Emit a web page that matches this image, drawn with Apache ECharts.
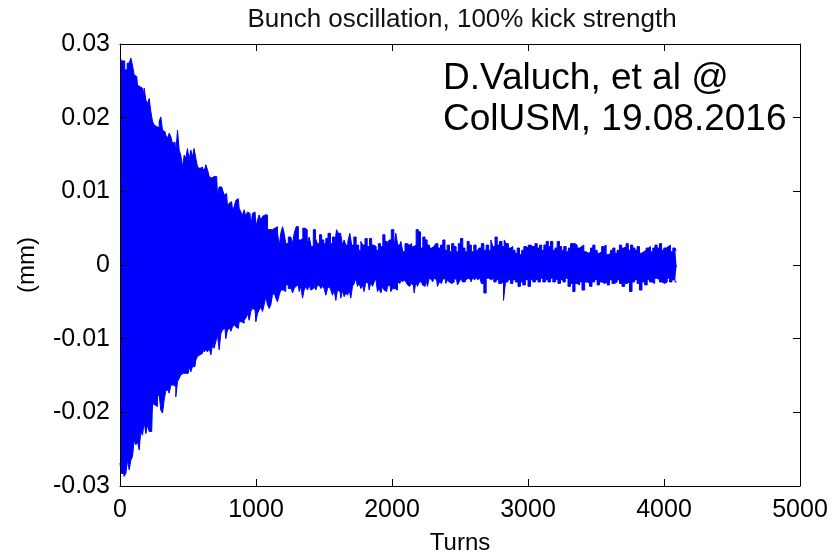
<!DOCTYPE html>
<html>
<head>
<meta charset="utf-8">
<script src="https://cdn.jsdelivr.net/npm/echarts@6/dist/echarts.min.js"></script>
<style>
html,body{margin:0;padding:0;background:#fff;}
#chart{width:839px;height:556px;}
</style>
</head>
<body>
<div id="chart"></div>
<script>
// Chart texts
const titleText = 'Bunch oscillation, 100% kick strength';
const xName = 'Turns';
const yName = '(mm)';
const noteText = 'D.Valuch, et al @\nColUSM, 19.08.2016';

// Axis ranges / ticks
const xTicks = { min: 0, max: 5000, interval: 1000 };
const yTicks = { min: -0.03, max: 0.03, interval: 0.01 };

// Upper envelope of the bunch oscillation [turn, mm]
const upperEnvelope = [
[0,0.0281],[25,0.0277],[44,0.0265],[61,0.0274],[74,0.0276],[86,0.0281],[98,0.0271],[110,0.0258],[123,0.0256],[135,0.0244],
[147,0.0242],[159,0.0240],[172,0.0226],[184,0.0240],[196,0.0224],[208,0.0219],[221,0.0226],[233,0.0208],[245,0.0195],[257,0.0190],
[270,0.0188],[282,0.0186],[294,0.0195],[306,0.0201],[319,0.0183],[331,0.0181],[343,0.0176],[355,0.0172],[368,0.0179],[380,0.0174],
[392,0.0165],[404,0.0167],[417,0.0154],[429,0.0183],[441,0.0156],[453,0.0149],[466,0.0133],[478,0.0149],[490,0.0145],[502,0.0158],
[515,0.0143],[527,0.0156],[539,0.0147],[551,0.0158],[564,0.0145],[576,0.0133],[588,0.0131],[600,0.0133],[613,0.0129],[625,0.0131],
[637,0.0136],[650,0.0129],[662,0.0120],[674,0.0118],[686,0.0120],[698,0.0120],[711,0.0120],[723,0.0093],[735,0.0106],[748,0.0106],
[760,0.0102],[772,0.0095],[784,0.0097],[797,0.0079],[809,0.0084],[821,0.0086],[833,0.0075],[846,0.0079],[858,0.0088],[870,0.0090],
[882,0.0077],[895,0.0072],[907,0.0068],[919,0.0075],[931,0.0066],[944,0.0072],[956,0.0070],[968,0.0052],[980,0.0070],[993,0.0072],
[1005,0.0052],[1017,0.0061],[1029,0.0068],[1042,0.0061],[1054,0.0066],[1066,0.0068],[1078,0.0068],[1091,0.0048],[1103,0.0048],[1115,0.0048],
[1127,0.0050],[1140,0.0050],[1152,0.0052],[1164,0.0045],[1176,0.0025],[1189,0.0043],[1201,0.0052],[1213,0.0043],[1225,0.0029],[1250,0.0038],
[1262,0.0038],[1275,0.0029],[1287,0.0043],[1304,0.0052],[1319,0.0034],[1336,0.0036],[1353,0.0050],[1368,0.0048],[1385,0.0029],[1397,0.0038],
[1414,0.0025],[1429,0.0048],[1446,0.0036],[1458,0.0029],[1476,0.0041],[1490,0.0034],[1507,0.0029],[1520,0.0036],[1539,0.0043],[1556,0.0029],
[1569,0.0038],[1586,0.0025],[1598,0.0048],[1613,0.0043],[1630,0.0041],[1642,0.0027],[1654,0.0034],[1667,0.0027],[1684,0.0032],[1696,0.0043],
[1711,0.0027],[1728,0.0038],[1745,0.0027],[1765,0.0020],[1777,0.0032],[1794,0.0027],[1809,0.0036],[1826,0.0025],[1843,0.0036],[1858,0.0027],
[1875,0.0025],[1892,0.0020],[1907,0.0029],[1924,0.0025],[1941,0.0041],[1956,0.0032],[1973,0.0027],[1985,0.0034],[2005,0.0048],[2022,0.0023],
[2034,0.0043],[2047,0.0029],[2059,0.0025],[2071,0.0032],[2088,0.0018],[2103,0.0029],[2120,0.0027],[2137,0.0029],[2152,0.0025],[2169,0.0027],
[2186,0.0048],[2201,0.0045],[2218,0.0023],[2235,0.0038],[2250,0.0034],[2267,0.0027],[2284,0.0023],[2299,0.0025],[2316,0.0023],[2328,0.0029],
[2348,0.0023],[2365,0.0027],[2382,0.0034],[2397,0.0020],[2414,0.0027],[2431,0.0018],[2446,0.0029],[2463,0.0025],[2480,0.0018],[2495,0.0029],
[2512,0.0036],[2529,0.0023],[2544,0.0018],[2561,0.0032],
[2574,0.0027],[2593,0.0018],[2610,0.0027],[2627,0.0020],[2647,0.0023],[2667,0.0029],[2684,0.0020],[2701,0.0027],[2721,0.0020],[2733,0.0034],
[2750,0.0025],[2765,0.0038],[2782,0.0027],[2799,0.0032],[2819,0.0025],[2831,0.0034],[2848,0.0029],[2863,0.0023],[2880,0.0025],[2897,0.0020],
[2912,0.0016],[2929,0.0023],[2946,0.0014],[2961,0.0020],[2978,0.0025],[2995,0.0023],[3010,0.0027],[3027,0.0025],[3044,0.0025],[3059,0.0029],
[3076,0.0023],[3093,0.0027],[3108,0.0020],[3125,0.0027],[3142,0.0032],[3157,0.0025],[3174,0.0032],[3191,0.0020],[3206,0.0023],[3223,0.0032],
[3240,0.0025],[3255,0.0020],[3272,0.0025],[3289,0.0018],[3304,0.0023],[3321,0.0029],[3338,0.0029],[3353,0.0027],[3370,0.0023],[3387,0.0025],
[3402,0.0027],[3419,0.0018],[3436,0.0016],[3451,0.0018],[3468,0.0023],[3485,0.0027],[3500,0.0020],[3517,0.0016],[3534,0.0018],[3549,0.0025],
[3566,0.0027],[3583,0.0014],[3598,0.0016],[3615,0.0020],[3632,0.0023],[3647,0.0016],[3664,0.0020],[3681,0.0027],[3696,0.0023],[3713,0.0025],
[3730,0.0029],[3745,0.0020],[3762,0.0027],[3779,0.0023],[3794,0.0020],[3811,0.0025],[3828,0.0016],[3843,0.0018],[3860,0.0020],[3877,0.0023],
[3892,0.0025],[3909,0.0018],[3926,0.0023],[3941,0.0027],[3958,0.0023],[3975,0.0029],[3990,0.0020],[4007,0.0023],[4024,0.0025],[4039,0.0027],
[4056,0.0018],[4074,0.0023],[4093,0.0020]
];

// Lower envelope of the bunch oscillation [turn, mm]
const lowerEnvelope = [
[0,-0.0269],[20,-0.0283],[37,-0.0287],[49,-0.0283],[61,-0.0265],[74,-0.0278],[86,-0.0265],[98,-0.0260],[110,-0.0238],[123,-0.0244],
[135,-0.0240],[147,-0.0251],[159,-0.0226],[172,-0.0231],[184,-0.0213],[196,-0.0229],[208,-0.0217],[221,-0.0226],[233,-0.0226],[245,-0.0188],
[257,-0.0190],[270,-0.0192],[282,-0.0179],[294,-0.0176],[306,-0.0197],[319,-0.0201],[331,-0.0183],[343,-0.0170],[355,-0.0170],[368,-0.0174],
[380,-0.0163],[392,-0.0163],[404,-0.0165],[417,-0.0179],[429,-0.0158],[441,-0.0154],[453,-0.0149],[466,-0.0147],[478,-0.0147],[490,-0.0149],
[502,-0.0147],[515,-0.0138],[527,-0.0145],[539,-0.0138],[551,-0.0138],[564,-0.0129],[576,-0.0124],[588,-0.0122],[600,-0.0120],[613,-0.0115],
[625,-0.0118],[637,-0.0115],[650,-0.0118],[662,-0.0113],[674,-0.0122],[686,-0.0109],[698,-0.0113],[711,-0.0104],[723,-0.0095],[735,-0.0115],
[748,-0.0093],[760,-0.0088],[772,-0.0086],[784,-0.0100],[797,-0.0088],[809,-0.0086],[821,-0.0090],[833,-0.0084],[846,-0.0081],[858,-0.0084],
[870,-0.0086],[882,-0.0077],[895,-0.0077],[907,-0.0079],[919,-0.0075],[931,-0.0072],[944,-0.0066],[956,-0.0075],[968,-0.0063],[980,-0.0059],
[993,-0.0061],[1005,-0.0077],[1017,-0.0066],[1029,-0.0061],[1042,-0.0057],[1054,-0.0063],[1066,-0.0054],[1078,-0.0043],[1091,-0.0054],[1103,-0.0059],
[1115,-0.0054],[1127,-0.0041],[1140,-0.0038],[1152,-0.0045],[1164,-0.0050],[1176,-0.0041],[1189,-0.0034],[1201,-0.0034],[1213,-0.0036],[1225,-0.0027],
[1250,-0.0032],
[1262,-0.0029],[1275,-0.0038],[1287,-0.0032],[1299,-0.0029],[1311,-0.0027],[1324,-0.0036],[1336,-0.0029],[1348,-0.0045],[1360,-0.0034],[1373,-0.0029],
[1385,-0.0034],[1397,-0.0027],[1409,-0.0034],[1422,-0.0032],[1434,-0.0029],[1446,-0.0034],[1458,-0.0027],[1471,-0.0029],[1483,-0.0032],[1495,-0.0029],
[1507,-0.0032],[1520,-0.0041],[1532,-0.0032],[1544,-0.0029],[1556,-0.0034],[1569,-0.0041],[1581,-0.0034],[1593,-0.0048],[1605,-0.0034],[1618,-0.0036],
[1630,-0.0045],[1642,-0.0034],[1654,-0.0043],[1667,-0.0038],[1679,-0.0041],[1691,-0.0034],[1703,-0.0045],[1716,-0.0029],[1728,-0.0025],[1740,-0.0018],
[1752,-0.0029],[1765,-0.0025],[1777,-0.0032],[1789,-0.0027],[1801,-0.0036],[1814,-0.0023],[1826,-0.0025],[1838,-0.0034],[1850,-0.0023],[1863,-0.0029],
[1875,-0.0023],[1887,-0.0018],[1899,-0.0036],[1912,-0.0032],[1924,-0.0038],[1936,-0.0029],[1948,-0.0034],[1961,-0.0036],[1973,-0.0029],[1985,-0.0027],
[1998,-0.0036],[2010,-0.0032],[2022,-0.0032],[2034,-0.0034],[2047,-0.0023],[2059,-0.0025],[2071,-0.0020],[2083,-0.0023],[2096,-0.0020],[2108,-0.0023],
[2120,-0.0027],[2132,-0.0029],[2145,-0.0025],[2157,-0.0027],[2169,-0.0038],[2181,-0.0023],[2194,-0.0029],[2206,-0.0023],[2218,-0.0023],[2230,-0.0027],
[2243,-0.0029],[2255,-0.0020],[2267,-0.0029],[2279,-0.0018],[2292,-0.0020],[2304,-0.0023],[2316,-0.0018],[2328,-0.0020],[2341,-0.0029],[2353,-0.0023],
[2365,-0.0025],[2377,-0.0020],[2390,-0.0018],[2402,-0.0025],[2414,-0.0020],[2426,-0.0023],[2439,-0.0025],[2451,-0.0023],[2463,-0.0018],[2475,-0.0020],
[2488,-0.0027],[2500,-0.0023],[2512,-0.0018],[2525,-0.0023],[2537,-0.0023],[2549,-0.0020],[2561,-0.0018],
[2574,-0.0020],[2586,-0.0023],[2598,-0.0018],[2610,-0.0020],[2623,-0.0016],[2635,-0.0020],[2647,-0.0018],[2667,-0.0025],[2684,-0.0038],[2701,-0.0018],
[2721,-0.0020],[2740,-0.0018],[2757,-0.0023],[2775,-0.0020],[2794,-0.0025],[2814,-0.0023],[2826,-0.0048],[2843,-0.0023],[2863,-0.0020],[2880,-0.0025],
[2897,-0.0020],[2917,-0.0023],[2936,-0.0029],[2953,-0.0023],[2971,-0.0027],[2990,-0.0020],[3010,-0.0029],[3027,-0.0020],[3044,-0.0023],[3064,-0.0020],
[3083,-0.0023],[3100,-0.0018],[3118,-0.0023],[3137,-0.0020],[3157,-0.0023],[3174,-0.0018],[3191,-0.0023],[3211,-0.0020],[3230,-0.0025],[3248,-0.0020],
[3265,-0.0023],[3284,-0.0018],[3304,-0.0029],[3321,-0.0025],[3338,-0.0036],[3353,-0.0025],[3370,-0.0027],[3387,-0.0023],[3407,-0.0034],[3426,-0.0023],
[3444,-0.0025],[3461,-0.0029],[3480,-0.0023],[3500,-0.0020],[3517,-0.0027],[3534,-0.0023],[3554,-0.0025],[3573,-0.0023],[3591,-0.0027],[3608,-0.0020],
[3627,-0.0025],[3647,-0.0023],[3664,-0.0020],[3681,-0.0025],[3701,-0.0029],[3721,-0.0025],[3738,-0.0023],[3755,-0.0036],[3775,-0.0023],[3794,-0.0020],
[3811,-0.0025],[3828,-0.0034],[3848,-0.0023],[3868,-0.0027],[3885,-0.0020],[3902,-0.0023],[3922,-0.0025],[3941,-0.0018],[3958,-0.0020],[3975,-0.0023],
[3995,-0.0025],[4015,-0.0023],[4032,-0.0018],[4049,-0.0023],[4069,-0.0020],[4093,-0.0023]
];

const FONT = '"Liberation Sans", Arial, sans-serif';
const BLUE = '#0000ff';

const chart = echarts.init(document.getElementById('chart'), null, { renderer: 'canvas' });

function boxAxis(extra) {
  return Object.assign({
    type: 'value',
    z: 5,
    axisLine: { show: true, onZero: false, lineStyle: { color: '#000', width: 1 } },
    axisTick: { show: true, inside: true, length: 7, lineStyle: { color: '#000', width: 1 } },
    splitLine: { show: false }
  }, extra);
}

const labelStyle = { color: '#000', fontSize: 25, fontFamily: FONT };

const option = {
  animation: false,
  backgroundColor: '#ffffff',
  title: {
    text: titleText,
    left: 457,
    textAlign: 'center',
    top: 2,
    textStyle: { fontFamily: FONT, fontSize: 26, fontWeight: 'normal', color: '#111' }
  },
  grid: { left: 120, right: 39, top: 44, bottom: 70, outerBoundsMode: 'none', containLabel: false },
  xAxis: [
    boxAxis({
      min: xTicks.min, max: xTicks.max, interval: xTicks.interval,
      position: 'bottom',
      name: xName, nameLocation: 'middle', nameGap: 45,
      nameTextStyle: { color: '#000', fontSize: 24, fontFamily: FONT },
      axisLabel: Object.assign({ margin: 12, formatter: function (v) { return String(v); } }, labelStyle)
    }),
    boxAxis({
      min: xTicks.min, max: xTicks.max, interval: xTicks.interval,
      position: 'top',
      axisLabel: { show: false }
    })
  ],
  yAxis: [
    boxAxis({
      min: yTicks.min, max: yTicks.max, interval: yTicks.interval,
      position: 'left',
      name: yName, nameLocation: 'middle', nameGap: 81,
      nameTextStyle: { color: '#000', fontSize: 24, fontFamily: FONT },
      axisLabel: Object.assign({ margin: 10 }, labelStyle)
    }),
    boxAxis({
      min: yTicks.min, max: yTicks.max, interval: yTicks.interval,
      position: 'right',
      axisLabel: { show: false }
    })
  ],
  graphic: [{
    type: 'text',
    left: 443,
    top: 58,
    z: 10,
    style: {
      text: noteText,
      fontSize: 37,
      fontFamily: FONT,
      lineHeight: 41,
      fill: '#000'
    }
  }],
  series: [
    {
      name: 'upper',
      type: 'line',
      step: 'middle',
      xAxisIndex: 0, yAxisIndex: 0,
      data: upperEnvelope,
      symbol: 'none',
      lineStyle: { color: BLUE, width: 1 },
      areaStyle: { color: BLUE, opacity: 1, origin: -0.0003 },
      silent: true
    },
    {
      name: 'lower',
      type: 'line',
      step: 'middle',
      xAxisIndex: 0, yAxisIndex: 0,
      data: lowerEnvelope,
      symbol: 'none',
      lineStyle: { color: BLUE, width: 1 },
      areaStyle: { color: BLUE, opacity: 1, origin: 'auto' },
      silent: true
    }
  ]
};

chart.setOption(option);
</script>
</body>
</html>
